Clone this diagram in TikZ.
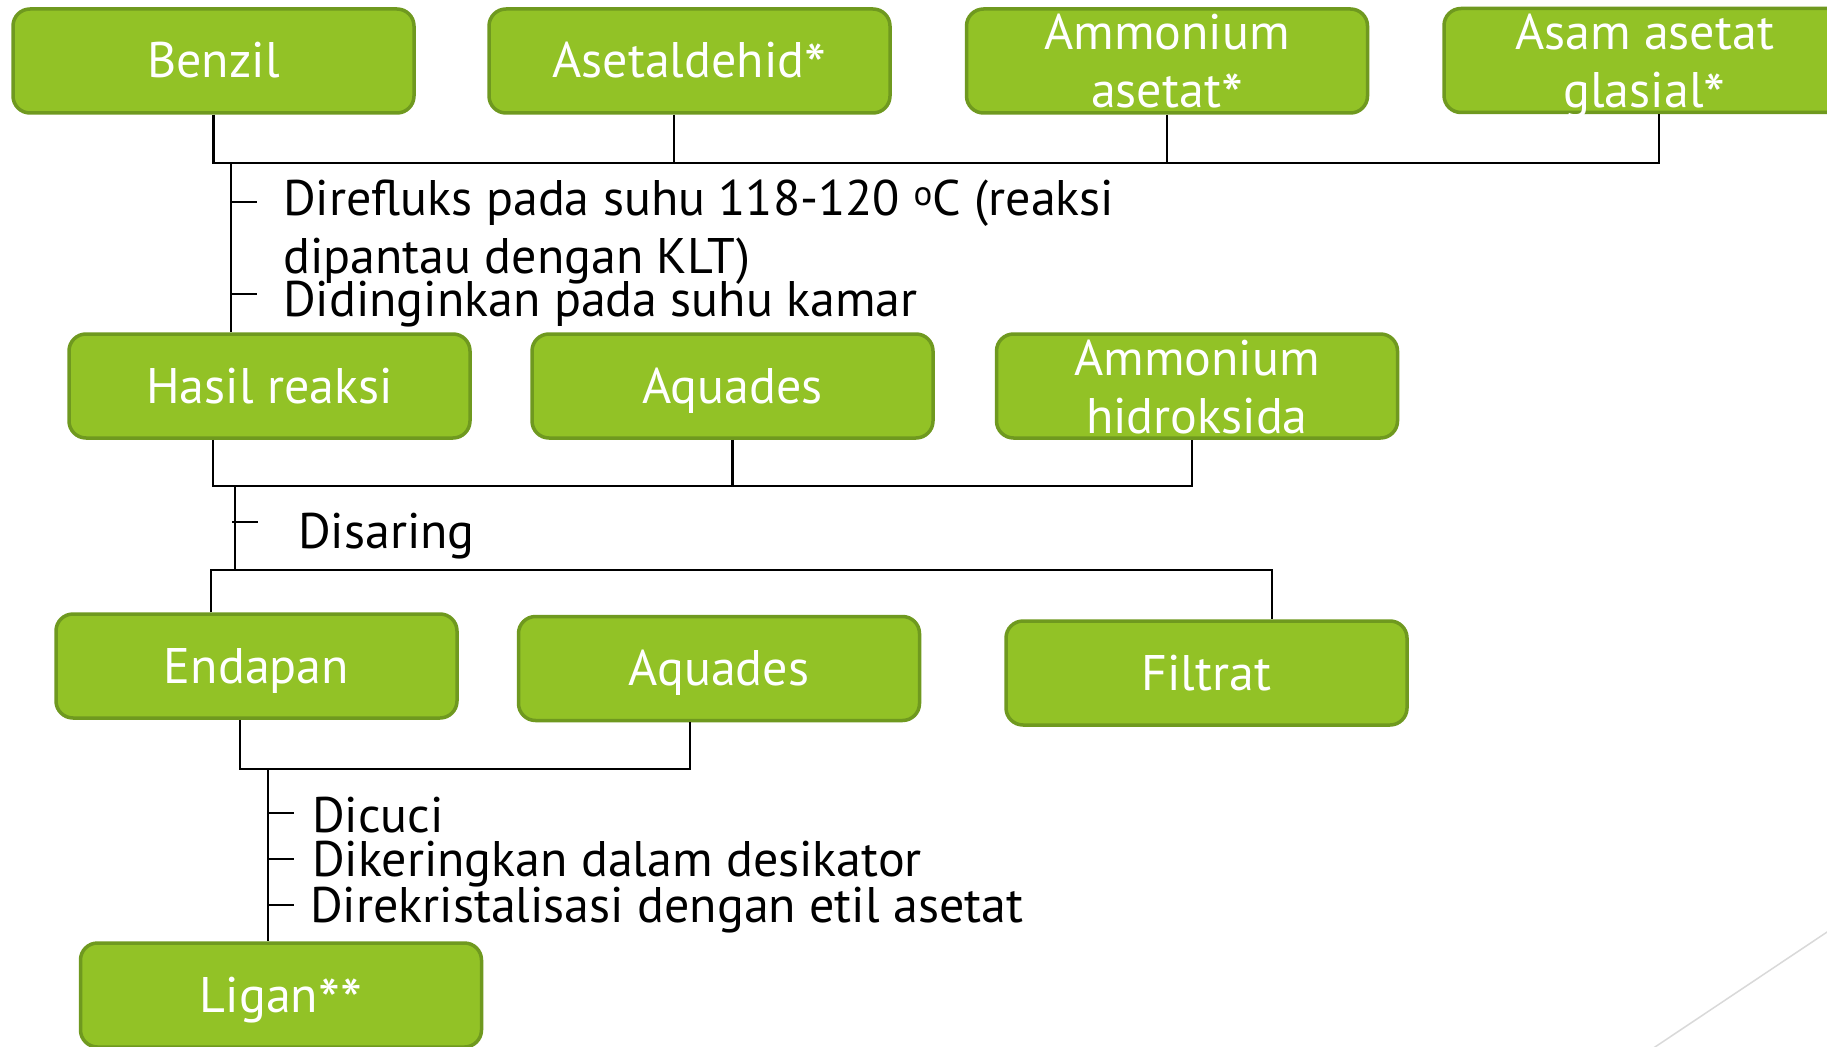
\documentclass[tikz,border=0pt]{standalone}
\usepackage{fontspec}
\setmainfont{PT Sans}
\definecolor{boxfill}{HTML}{92C226}
\definecolor{boxline}{HTML}{6F991F}
\definecolor{facetgray}{HTML}{D9D9D9}
\newcommand{\flowfont}{\fontsize{50}{58}\selectfont}
% a larger, lower asterisk for the reagent marks
\newcommand{\reagmark}{\raisebox{-11pt}{\scalebox{1.25}{*}}}
\tikzset{
  box/.style={draw=boxline, line width=3.5pt, fill=boxfill, rounded corners=17pt,
    minimum width=401pt, minimum height=104pt, inner sep=0pt, text=white,
    font=\flowfont, text height=34pt, text depth=0pt},
  boxtwo/.style={box, text height=40pt, text depth=62pt},
  conn/.style={line width=2.5pt, draw=black},
  steptext/.style={font=\flowfont, inner sep=0pt, anchor=base west, text=black}
}
\begin{document}
\begin{tikzpicture}[x=1pt, y=-1pt]
\useasboundingbox (0,0) rectangle (1827,1046);
\clip (0,0) rectangle (1827,1046);
\fill[white] (0,0) rectangle (1827,1046);

% decorative theme line
\coordinate (g1) at (1640,1057);
\coordinate (g2) at (1860,910);
\draw[facetgray, line width=1.5pt] (g1) -- (g2);

% junction points and ticks
\coordinate (bus1) at (0,163);
\coordinate (stem1) at (231,163);
\coordinate (t1) at (231,202);
\coordinate (t2) at (231,294);
\coordinate (bus2) at (0,486);
\coordinate (stem2) at (235,486);
\coordinate (t3) at (232,522);
\coordinate (bus3) at (0,570);
\coordinate (bus4) at (0,769);
\coordinate (stem3) at (268,769);
\coordinate (t4) at (268,813);
\coordinate (t5) at (268,859);
\coordinate (t6) at (268,905);

% row 1
\node[box] (benzil) at (213.5,61) {Benzil};
\node[box] (aset) at (689.5,61) {Asetaldehid\reagmark};
\node[boxtwo] (amac) at (1167,61) {\begin{tabular}[t]{@{}c@{}}Ammonium\\asetat\reagmark\end{tabular}};
\node[boxtwo] (asam) at (1644.5,60.5) {\begin{tabular}[t]{@{}c@{}}Asam asetat\\glasial\reagmark\end{tabular}};

% row 2
\node[box] (hasil) at (269.5,386) {Hasil reaksi};
\node[box] (aq1) at (732.5,386) {Aquades};
\node[boxtwo] (amoh) at (1197,386) {\begin{tabular}[t]{@{}c@{}}Ammonium\\hidroksida\end{tabular}};

% row 3
\node[box] (endapan) at (256.5,666) {Endapan};
\node[box] (aq2) at (719,668.5) {Aquades};
\node[box] (filtrat) at (1206.5,673) {Filtrat};

% row 4
\node[box] (ligan) at (281,995) {Ligan\reagmark\reagmark};

% connectors, step 1
\draw[conn] (benzil.south) |- ([xshift=14.5pt]asam.south |- bus1) -- ([xshift=14.5pt]asam.south);
\draw[conn] ([xshift=-15.5pt]aset.south) -- ([xshift=-15.5pt]aset.south |- bus1);
\draw[conn] (amac.south) -- (amac.south |- bus1);
\draw[conn] (stem1) -- (stem1 |- hasil.north);
\draw[conn] (t1) -- ++(26,0);
\draw[conn] (t2) -- ++(26,0);
\node[steptext] (s1) at (283,215) {\begin{tabular}[t]{@{}l@{}}Direfluks pada suhu 118-120 \textsuperscript{o}C (reaksi\\dipantau dengan KLT)\end{tabular}};
\node[steptext] (s2) at (283,316) {Didinginkan pada suhu kamar};

% connectors, step 2
\draw[conn] ([xshift=-56.5pt]hasil.south) |- ([xshift=-5pt]amoh.south |- bus2) -- ([xshift=-5pt]amoh.south);
\draw[conn] (aq1.south) -- (aq1.south |- bus2);
\draw[conn] (stem2) -- (stem2 |- bus3);
\draw[conn] (t3) -- ++(26,0);
\node[steptext] (s3) at (298,548) {Disaring};
\draw[conn] ([xshift=-45.5pt]endapan.north) |- ([xshift=65.5pt]filtrat.north |- bus3) -- ([xshift=65.5pt]filtrat.north);

% connectors, step 3
\draw[conn] ([xshift=-16.5pt]endapan.south) |- ([xshift=-29pt]aq2.south |- bus4) -- ([xshift=-29pt]aq2.south);
\draw[conn] (stem3) -- (stem3 |- ligan.north);
\draw[conn] (t4) -- ++(26,0);
\draw[conn] (t5) -- ++(26,0);
\draw[conn] (t6) -- ++(26,0);
\node[steptext] (s4) at (312,832) {Dicuci};
\node[steptext] (s5) at (312,876) {Dikeringkan dalam desikator};
\node[steptext] (s6) at (310,922) {Direkristalisasi dengan etil asetat};
\end{tikzpicture}
\end{document}
